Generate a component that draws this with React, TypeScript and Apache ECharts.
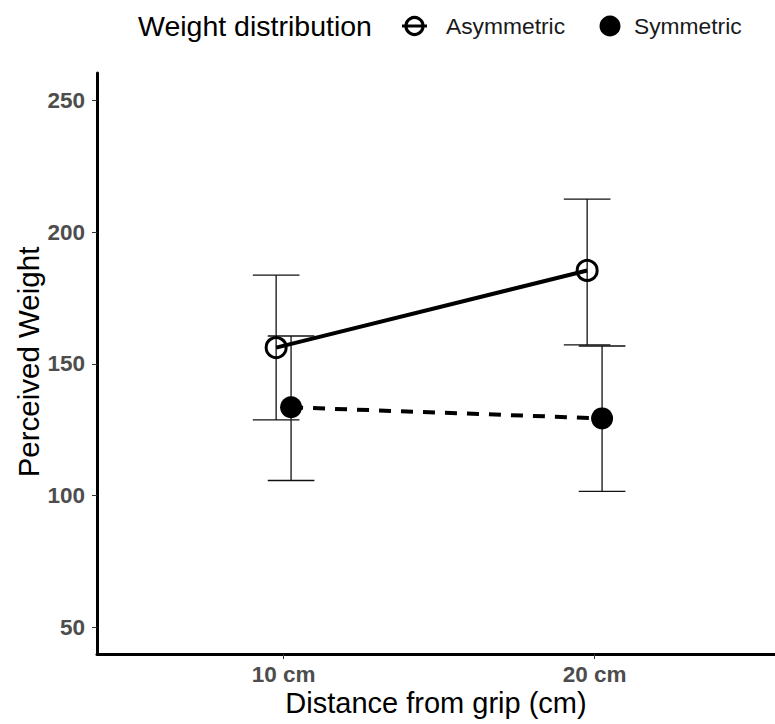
import React, { useEffect, useRef } from "react";
import * as echarts from "echarts";

const categories = ["10 cm", "20 cm"];
const yTicks = [50, 100, 150, 200, 250];
const asymMean = [156.2, 185.5];
const asymLow = [128.7, 157.2];
const asymHigh = [183.7, 212.6];
const symMean = [133.5, 129.3];
const symLow = [105.7, 101.6];
const symHigh = [160.6, 156.8];
const seriesNames = ["Asymmetric", "Symmetric"];
const legendTitle = "Weight distribution";
const xTitle = "Distance from grip (cm)";
const yTitle = "Perceived Weight";

const DODGE = 0.024;
const CAP = 0.075;
const FONT = "'Liberation Sans', Arial, Helvetica, sans-serif";

export default function App() {
  const ref = useRef<HTMLDivElement>(null);
  useEffect(() => {
    document.body.style.margin = "0";
    const chart = echarts.init(ref.current!, null, { renderer: "svg" });
    const asymPts = categories.map((_, i) => [i + 1 - DODGE, asymMean[i]]);
    const symPts = categories.map((_, i) => [i + 1 + DODGE, symMean[i]]);
    const errData = [
      ...categories.map((_, i) => [i + 1 - DODGE, asymLow[i], asymHigh[i]]),
      ...categories.map((_, i) => [i + 1 + DODGE, symLow[i], symHigh[i]]),
    ];
    const option: any = {
      animation: false,
      backgroundColor: "#ffffff",
      grid: { left: 97, right: 0, top: 73, bottom: 70, containLabel: false },
      xAxis: {
        type: "value",
        min: 0.4,
        max: 2.58,
        splitLine: { show: false },
        axisLine: { onZero: false, lineStyle: { color: "#000", width: 3 } },
        axisTick: { show: true, customValues: [1, 2], length: 5, lineStyle: { color: "#333", width: 1 } },
        axisLabel: {
          customValues: [1, 2],
          formatter: (v: number) => categories[Math.round(v) - 1] ?? "",
          color: "#4D4D4D",
          fontWeight: "bold",
          fontSize: 22.5,
          fontFamily: FONT,
          margin: 9,
        },
      },
      yAxis: {
        type: "value",
        min: 39.8,
        max: 260.5,
        splitLine: { show: false },
        axisLine: { show: true, onZero: false, lineStyle: { color: "#000", width: 3 } },
        axisTick: { show: true, customValues: yTicks, length: 5, lineStyle: { color: "#333", width: 1 } },
        axisLabel: {
          customValues: yTicks,
          color: "#4D4D4D",
          fontWeight: "bold",
          fontSize: 22.5,
          fontFamily: FONT,
          margin: 12,
        },
      },
      series: [
        {
          type: "custom",
          name: "errorbars",
          data: errData,
          z: 1,
          renderItem: (params: any, api: any) => {
            const x = api.value(0);
            const lo = api.coord([x, api.value(1)]);
            const hi = api.coord([x, api.value(2)]);
            const l = api.coord([x - CAP, api.value(1)])[0];
            const r = api.coord([x + CAP, api.value(1)])[0];
            const style = { stroke: "#111", lineWidth: 1.3 };
            return {
              type: "group",
              children: [
                { type: "line", shape: { x1: lo[0], y1: lo[1], x2: hi[0], y2: hi[1] }, style },
                { type: "line", shape: { x1: l, y1: lo[1], x2: r, y2: lo[1] }, style },
                { type: "line", shape: { x1: l, y1: hi[1], x2: r, y2: hi[1] }, style },
              ],
            };
          },
        },
        {
          type: "line",
          name: seriesNames[0],
          data: asymPts,
          z: 3,
          symbol: "circle",
          symbolSize: 20,
          lineStyle: { color: "#000", width: 4, type: "solid" },
          itemStyle: { color: "rgba(0,0,0,0)", borderColor: "#000", borderWidth: 3 },
        },
        {
          type: "line",
          name: seriesNames[1],
          data: symPts,
          z: 3,
          symbol: "circle",
          symbolSize: 22,
          lineStyle: { color: "#000", width: 4, type: [12, 10] },
          itemStyle: { color: "#000", borderWidth: 0 },
        },
      ],
      graphic: [
        {
          type: "text",
          left: 138,
          top: 11,
          style: { text: legendTitle, fontSize: 28.5, fontFamily: FONT, fill: "#000" },
        },
        { type: "line", shape: { x1: 402, y1: 26, x2: 427, y2: 26 }, style: { stroke: "#000", lineWidth: 3 } },
        { type: "circle", shape: { cx: 414.5, cy: 26, r: 8.5 }, style: { fill: "none", stroke: "#000", lineWidth: 3.2 } },
        {
          type: "text",
          x: 446,
          y: 26,
          style: { text: seriesNames[0], fontSize: 22.8, fontFamily: FONT, fill: "#1a1a1a", verticalAlign: "middle" },
        },
        { type: "circle", shape: { cx: 610, cy: 26, r: 10.5 }, style: { fill: "#000" } },
        {
          type: "text",
          x: 634,
          y: 26,
          style: { text: seriesNames[1], fontSize: 22.8, fontFamily: FONT, fill: "#1a1a1a", verticalAlign: "middle" },
        },
        {
          type: "text",
          x: 436,
          y: 703,
          style: { text: xTitle, fontSize: 29, fontFamily: FONT, fill: "#000", align: "center", verticalAlign: "middle" },
        },
        {
          type: "text",
          x: 28,
          y: 362,
          rotation: Math.PI / 2,
          style: { text: yTitle, fontSize: 29.5, fontFamily: FONT, fill: "#000", align: "center", verticalAlign: "middle" },
        },
      ],
    };
    chart.setOption(option);
    return () => chart.dispose();
  }, []);
  return <div ref={ref} style={{ width: 775, height: 724 }} />;
}
